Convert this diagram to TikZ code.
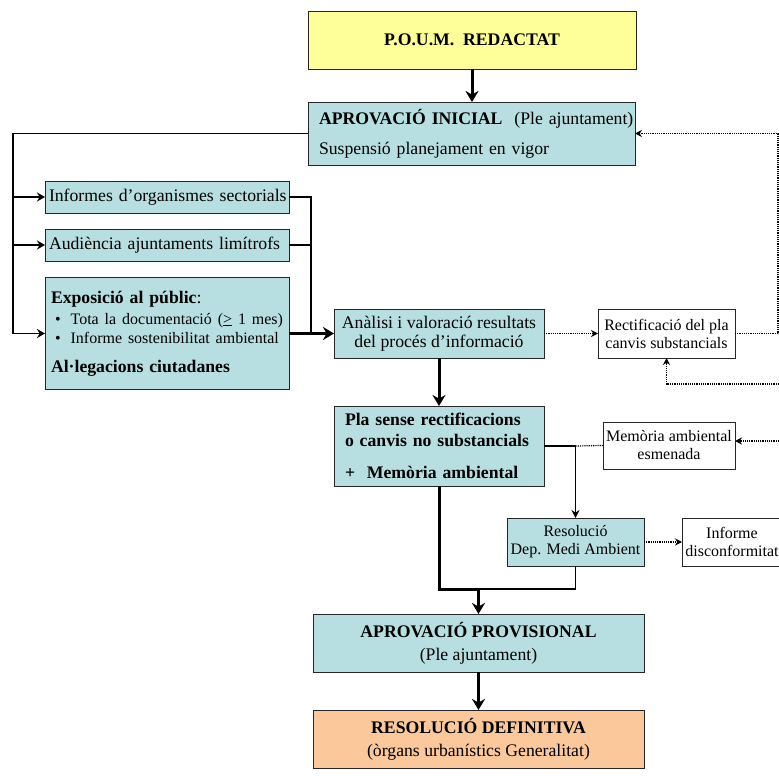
\documentclass[tikz,border=0pt]{standalone}
\usepackage{fontspec}
\setmainfont{Liberation Serif}
\usetikzlibrary{arrows.meta}

\definecolor{aquafill}{RGB}{183,222,224}
\definecolor{poumfill}{RGB}{255,255,153}
\definecolor{finalfill}{RGB}{250,200,155}

\tikzset{
    box/.style={draw=black!85, line width=0.9pt, inner sep=0pt, outer sep=0pt},
    aqua/.style={box, fill=aquafill},
    plain/.style={box, fill=white},
    bigtxt/.style={font=\fontsize{17.7}{19}\selectfont},
    smalltxt/.style={font=\fontsize{16}{18}\selectfont},
    main/.style={line width=3pt, -{Stealth[length=11pt,width=13pt]}},
    feed/.style={line width=1.8pt},
    feedarrow/.style={line width=1.6pt, -{Stealth[length=8pt,width=9pt]}},
    link/.style={line width=1.3pt},
    dots/.style={line width=1.2pt, dash pattern=on 1.2pt off 1pt},
    maybe/.style={dots, -{Stealth[length=7pt,width=7pt]}}
}

\begin{document}
\begin{tikzpicture}[x=1pt, y=-1pt]
    \clip (0,0) rectangle (779,776);

    % --- SCENARIO: initial approval ---
    \node[box, fill=poumfill, minimum width=328pt, minimum height=58pt, bigtxt] (poum) at (472,40) {\textbf{P.O.U.M.\ \ REDACTAT}};
    \node[aqua, minimum width=327pt, minimum height=63pt, text width=305pt, align=left, font=\fontsize{17.7}{20}\selectfont] (inicial) at (471.5,133.5)
        {\mbox{\textbf{APROVACIÓ INICIAL}\ \ (Ple ajuntament)}\\[10pt]Suspensió planejament en vigor};

    % --- information stage ---
    \node[aqua, minimum width=244pt, minimum height=32pt, text width=236pt, align=left, bigtxt] (organismes) at (167,197) {\mbox{Informes d'organismes sectorials}};
    \node[aqua, minimum width=244pt, minimum height=32pt, text width=236pt, align=left, bigtxt] (limitrofs) at (167,245) {\mbox{Audiència ajuntaments limítrofs}};
    \node[aqua, minimum width=244pt, minimum height=112pt, text width=232pt, align=left, font=\fontsize{17.7}{17}\selectfont] (exposicio) at (167,333.5)
        {\textbf{Exposició al públic}:\\[4pt]
         \mbox{\fontsize{16}{17}\selectfont\hspace*{4pt}\textbullet\hspace{10pt}Tota la documentació (\underline{>}\ 1 mes)}\\[2pt]
         \mbox{\fontsize{16}{17}\selectfont\hspace*{4pt}\textbullet\hspace{10pt}Informe sostenibilitat ambiental}\\[12pt]
         \textbf{Al·legacions ciutadanes}};

    % --- analysis and rectification ---
    \node[aqua, minimum width=210pt, minimum height=49pt, align=center, font=\fontsize{17.7}{18.5}\selectfont] (analisi) at (439,333.5) {Anàlisi i valoració resultats\\del procés d'informació};
    \node[plain, minimum width=137pt, minimum height=49pt, align=center, smalltxt] (rectif) at (666.5,333.5) {Rectificació del pla\\canvis substancials};
    \node[aqua, minimum width=210pt, minimum height=80pt, text width=188pt, align=left, font=\fontsize{17.7}{21}\selectfont\bfseries] (pla) at (439,446)
        {Pla sense rectificacions\\o canvis no substancials\\[11pt]+\ \ Memòria ambiental};
    \node[plain, minimum width=132pt, minimum height=47pt, align=center, smalltxt] (esmenada) at (669,445.5) {Memòria ambiental\\esmenada};
    \node[aqua, minimum width=137pt, minimum height=48pt, align=center, smalltxt] (resolucio) at (575.5,542) {Resolució\\Dep. Medi Ambient};
    \node[plain, minimum width=100pt, minimum height=48pt, align=center, smalltxt] (disconf) at (732,542) {Informe\\disconformitat};

    % --- final approval ---
    \node[aqua, minimum width=331pt, minimum height=58pt, align=center, font=\fontsize{17.7}{23}\selectfont] (provisional) at (478.5,643) {\textbf{APROVACIÓ PROVISIONAL}\\(Ple ajuntament)};
    \node[box, fill=finalfill, minimum width=331pt, minimum height=58pt, align=center, font=\fontsize{17.7}{23}\selectfont] (definitiva) at (478.5,739) {\textbf{RESOLUCIÓ DEFINITIVA}\\(òrgans urbanístics Generalitat)};

    % Connectors
    \draw[main] (poum.south) -- (poum.south |- inicial.north);

    \coordinate (feedtop) at (13,133.5);
    \draw[feed] (inicial.west) -- (feedtop) -- (feedtop |- exposicio.west);
    \foreach \n in {organismes,limitrofs,exposicio} \draw[feedarrow] (feedtop |- \n.west) -- (\n.west);

    \coordinate (merge) at (311,333.5);
    \draw[link] (organismes.east) -| (merge);
    \draw[link] (limitrofs.east) -- (limitrofs.east -| merge);
    \draw[main] (exposicio.east) -- (analisi.west);

    % dotted returns
    \draw[maybe] (analisi) -- (rectif);
    \coordinate (backup) at (778,133.5);
    \draw[maybe] (rectif.east) -| (backup) -- (inicial.east);
    \coordinate (fromright) at (790,384);
    \draw[maybe] (fromright) -| (rectif.south);
    \coordinate (fromright2) at (790,441);
    \draw[maybe] (fromright2) -- (fromright2 -| esmenada.east);

    \draw[main] (analisi) -- (pla);
    \coordinate (split) at (575.5,446);
    \draw[link] (pla.east) -- (split);
    \draw[dots] (split) -- (esmenada.west);
    \draw[link, -{Stealth[length=8pt,width=8pt]}] (split) -- (resolucio.north);
    \draw[maybe] (resolucio) -- (disconf);

    \coordinate (join) at (478.5,589);
    \draw[main] (pla.south) |- (join) -- (provisional.north);
    \draw[link] (resolucio.south) |- (join);
    \draw[main] (provisional) -- (definitiva);
\end{tikzpicture}
\end{document}
